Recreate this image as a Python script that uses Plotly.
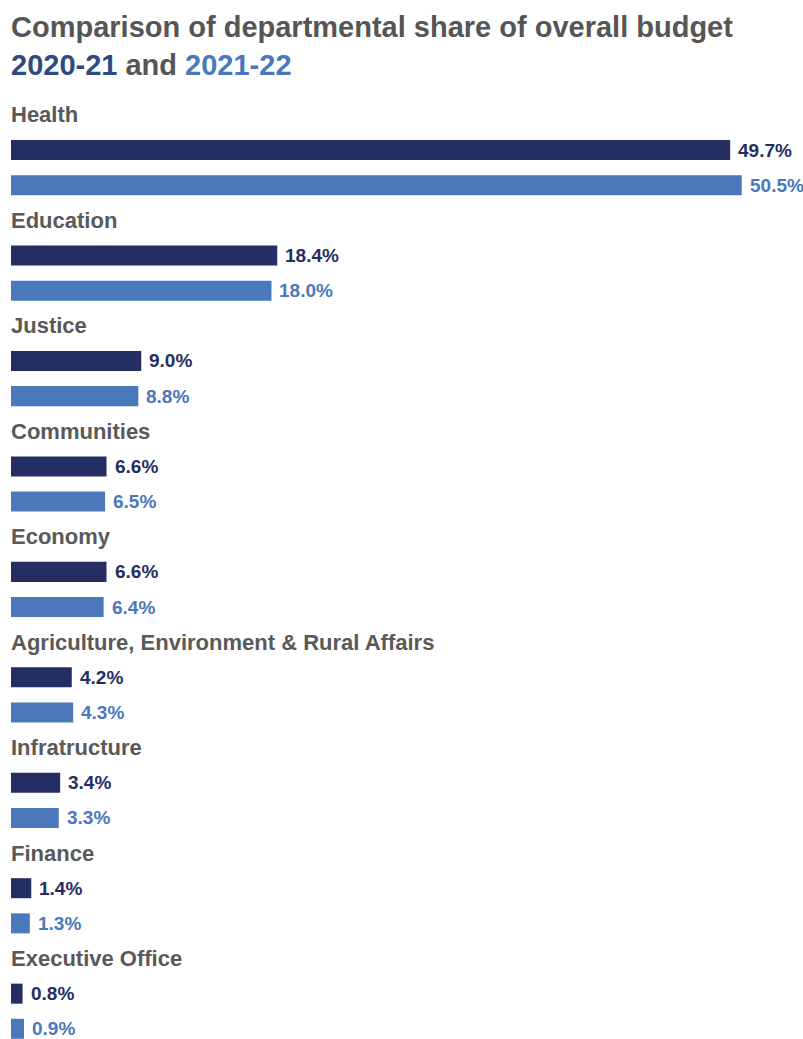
import plotly.graph_objects as go

departments = ["Health", "Education", "Justice", "Communities", "Economy",
               "Agriculture, Environment & Rural Affairs", "Infratructure",
               "Finance", "Executive Office"]
share_2020_21 = [49.7, 18.4, 9.0, 6.6, 6.6, 4.2, 3.4, 1.4, 0.8]
share_2021_22 = [50.5, 18.0, 8.8, 6.5, 6.4, 4.3, 3.3, 1.3, 0.9]

C1 = "#252e63"
C2 = "#4a78bb"
GRAY = "#595959"
FONT = "Liberation Sans, Arial, sans-serif"

rows_label = [3 * i for i in range(len(departments))]
rows_a = [3 * i + 1 for i in range(len(departments))]
rows_b = [3 * i + 2 for i in range(len(departments))]

TOP = 97
PH = 1039 - TOP

fig = go.Figure()
fig.add_trace(go.Bar(x=share_2020_21, y=rows_a, orientation="h", width=0.57,
                     marker=dict(color=C1, line=dict(width=0)), name="2020-21",
                     hoverinfo="x"))
fig.add_trace(go.Bar(x=share_2021_22, y=rows_b, orientation="h", width=0.57,
                     marker=dict(color=C2, line=dict(width=0)), name="2021-22",
                     hoverinfo="x"))

ann = []
ann.append(dict(
    x=0, xref="paper", y=1 + (TOP - 9) / PH, yref="paper",
    xanchor="left", yanchor="top", align="left", showarrow=False, xshift=-2,
    text=("<b>Comparison of departmental share of overall budget<br>"
          "<span style='color:#2d4b80'>2020-21</span> and "
          "<span style='color:#4a78bb'>2021-22</span></b>"),
    font=dict(family=FONT, size=29, color="#555555")))
for d, r in zip(departments, rows_label):
    ann.append(dict(x=0, xref="paper", y=r, yref="y", text="<b>%s</b>" % d,
                    showarrow=False, xanchor="left", yanchor="middle", xshift=-2,
                    font=dict(family=FONT, size=22, color=GRAY)))
for v, r in zip(share_2020_21, rows_a):
    ann.append(dict(x=v, y=r, xref="x", yref="y", text="<b>%.1f%%</b>" % v,
                    showarrow=False, xanchor="left", yanchor="middle", xshift=6,
                    font=dict(family=FONT, size=19, color=C1)))
for v, r in zip(share_2021_22, rows_b):
    ann.append(dict(x=v, y=r, xref="x", yref="y", text="<b>%.1f%%</b>" % v,
                    showarrow=False, xanchor="left", yanchor="middle", xshift=6,
                    font=dict(family=FONT, size=19, color=C2)))

fig.update_layout(
    width=803, height=1039,
    margin=dict(l=11, r=0, t=TOP, b=0),
    paper_bgcolor="white", plot_bgcolor="white",
    showlegend=False,
    barmode="overlay",
    xaxis=dict(range=[0, 792 / 14.47], visible=False, fixedrange=True),
    yaxis=dict(range=[26.29, -0.51], visible=False, fixedrange=True),
    annotations=ann,
)

fig.write_html("out.html")
